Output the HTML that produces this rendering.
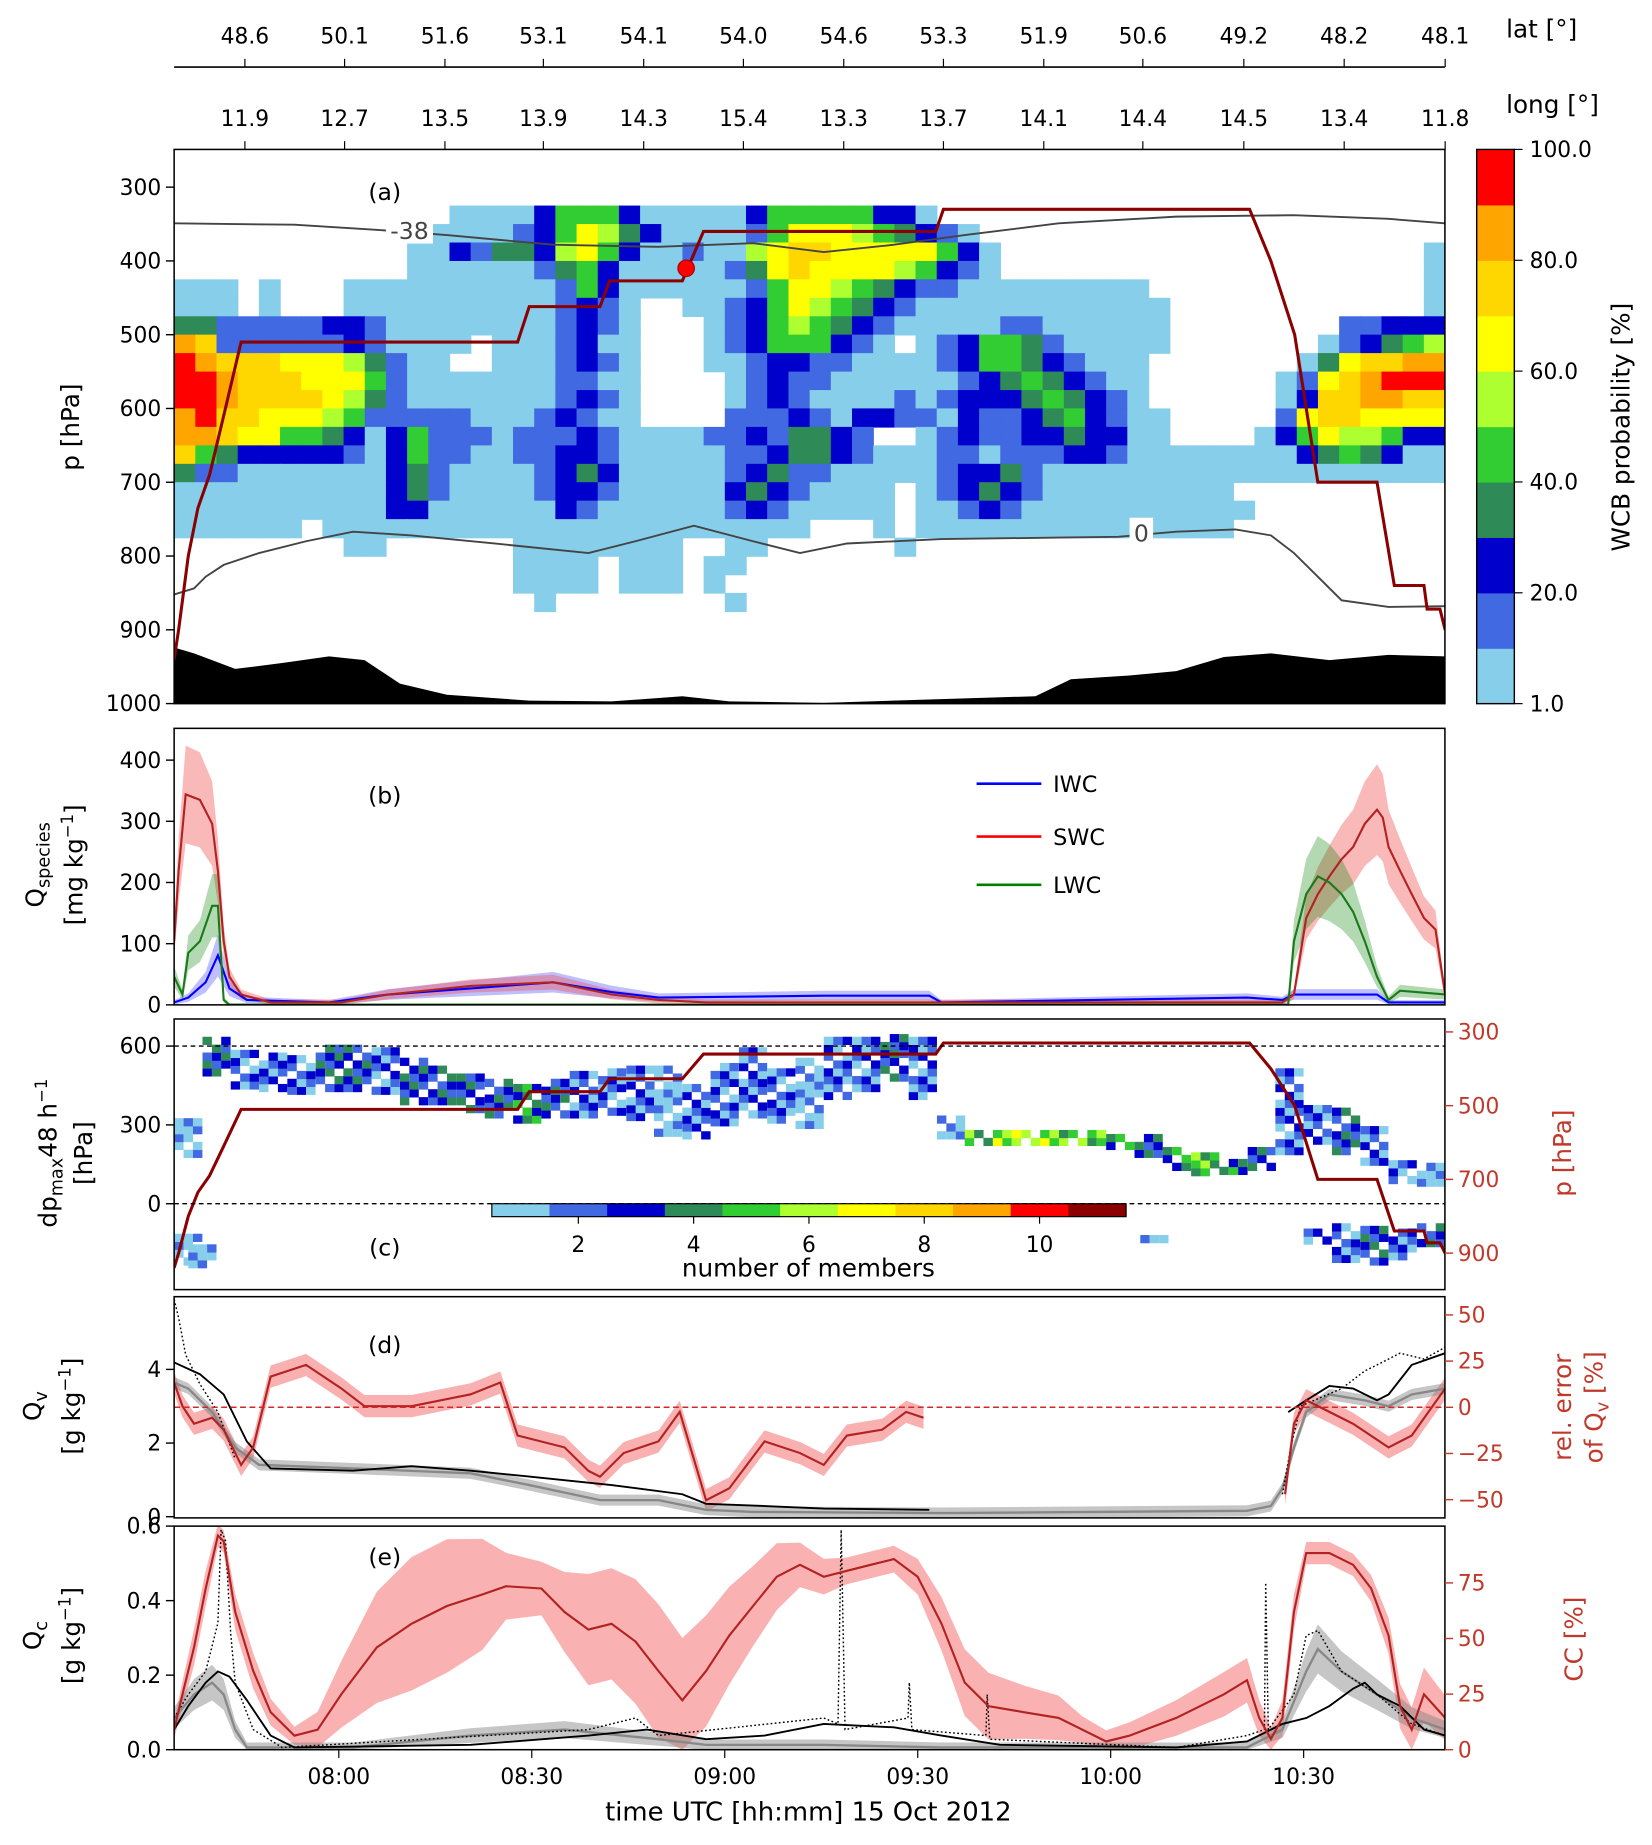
<!DOCTYPE html>
<html><head><meta charset="utf-8">
<style>body{margin:0;background:#fff}svg{display:block}text{font-family:"DejaVu Sans","Liberation Sans",sans-serif;}</style>
</head><body>
<svg id="fig" xmlns="http://www.w3.org/2000/svg" width="1652" height="1845" viewBox="0 0 1404 1568" preserveAspectRatio="none"></svg>
<script>
// ---------- DATA ----------
const tickTimes=[60,90,120,150,180,210];
const tickLabels=['08:00','08:30','09:00','09:30','10:00','10:30'];
const topTimes=[45.4,60.9,76.5,91.8,107.4,122.9,138.5,154.0,169.6,185.0,200.7,216.3,232.0];
const latLabels=['48.6','50.1','51.6','53.1','54.1','54.0','54.6','53.3','51.9','50.6','49.2','48.2','48.1'];
const lonLabels=['11.9','12.7','13.5','13.9','14.3','15.4','13.3','13.7','14.1','14.4','14.5','13.4','11.8'];
// panel a heatmap: 60 time columns x 22 pressure rows (325..875 hPa), level codes
const heatTime0=34.4, heatDt=3.293, heatP0=325, heatDp=25;
const heatRows=[
".............00002444200000244444220........................",
"...........000001246532000014666543210......................",
"...........0021332564200100567766666420....................0",
"...........0000001342000001367666654210....................0",
"000.0..."+"00000000"+"0"+"0142"+"000000"+"14665432110"+"00000000"+"............."+"0",
"000.0..."+"00000000"+"00121"+"0.."+"00124654321"+"000"+"000000000"+"............"+"0",
"33"+"11111"+"22"+"1"+"00000000"+"1210"+"..."+"012454321"+"00000"+"11"+"000000"+"........"+"11222",
"87"+"111111"+"2"+"1"+"0000"+"."+"000"+"1200"+"..."+"012444210"+"."+"0124431"+"00000"+"......."+"012345",
"9877766653100"+".."+"0001210"+"..."+"0012211"+"0000"+"1244321000"+"......."+"0367788",
"99877766641"+"0000000"+"1100"+"...."+"0121100000"+"0123432100"+"......"+"01678999",
"99877776531"+"0000000"+"1210"+"...."+"0121000010"+"1222343210"+"......"+"02778877",
"89776665411"+"111"+"000"+"12100"+"...."+"11121022110"+"211234210"+"0"+"....."+"16776666",
"887664432"+"0241110111"+"210000"+"11213321"+".."+"01211223220"+"0"+"...."+"024655422",
"743222221"+"0241100112"+"210000"+"01123321"+"0001101112210"+"0000000"+"2343200",
"3110000000"+"231"+"0000"+"1232"+"00000"+"12311"+"00000"+"12231"+"0000000000000000000",
"0000000000"+"231"+"0000"+"1221"+"00000"+"2321"+"0000"+"."+"012321"+"000000000"+"..........",
"0000000000"+"22"+"000000"+"21"+"000000"+"121"+"00000"+"."+"00121"+"00000000000"+".........",
"000000"+"."+"0"+"0000000000000000000000"+"..."+"0"+"."+"000000000000000"+"..........",
"........00"+"......"+"00000000"+".."+"00"+"......"+"0"+".........................",
"................"+"0000"+"."+"000"+"."+"00"+".................................",
"................"+"0000"+"."+"000"+"."+"0"+"..................................",
"................."+"0"+"........"+"0"+"................................."
];
const pathTime=[34.4,35.1,36.6,38.1,39.9,42.1,44.8,87.8,89.6,100.6,102.1,113.4,116.7,152.8,154.0,201.6,204.9,208.6,212.2,221.4,224.1,228.7,229.2,231.2,232.0];
const pathP=[940,900,800,735,690,610,510,510,462,462,427,427,360,360,330,330,400,500,700,700,840,840,872,872,900];
const dotTime=[114.0], dotP=[410];
const isoM38Time=[34.4,53.1,67.7,76.8,93.3,109.7,124.4,135.4,146.3,157.3,171.9,190.2,208.5,223.2,232.0];
const isoM38P=[349,351,359,365,378,381,376,388,378,365,349,340,338,343,349];
const iso0Time=[34.4,37.5,39.3,42.1,47.6,54.9,62.2,71.3,84.2,98.8,106.1,115.2,124.4,131.7,139.0,153.7,171.9,181.1,190.2,199.4,204.9,208.5,212.2,215.9,223.2,232.0];
const iso0P=[852,844,828,812,796,780,767,772,783,796,780,759,780,796,783,777,775,774,767,764,772,796,828,860,869,868];
const topoTime=[34.4,37.5,43.9,51.2,58.5,64.0,69.5,76.8,89.6,102.4,113.4,120.7,135.4,168.3,173.8,182.9,190.2,197.6,204.9,214.0,223.2,232.0];
const topoP=[924,932,953,945,936,941,973,988,996,997,990,997,999,990,967,962,956,937,932,941,934,936];
// panel b
const swcTime=[34.4,35.1,36.2,38.4,40.3,41.2,42.1,43.0,44.8,49.4,60.4,67.7,80.5,93.3,102.4,109.7,117.1,206.7,208.5,210.4,212.2,214.0,215.9,217.7,219.5,221.4,222.3,223.2,225.0,226.8,228.7,230.5,232.0];
const swcVal=[104,219,344,335,296,219,104,46,17,4,4,17,31,37,17,8,4,4,17,142,181,210,238,258,296,319,306,258,219,181,142,123,17];
const lwcTime=[34.4,35.7,36.6,38.4,40.3,41.2,42.1,43.0,207.6,208.5,210.4,212.2,214.0,215.9,217.7,219.5,221.4,223.2,225.0,232.0];
const lwcVal=[46,17,85,104,162,162,8,0,0,104,181,210,200,181,152,104,46,8,23,17];
const iwcTime=[34.4,36.6,39.3,41.2,43.0,45.7,58.5,67.7,80.5,93.3,102.4,109.7,135.4,151.8,153.7,201.2,206.7,208.5,221.4,223.2,232.0];
const iwcVal=[4,12,37,81,27,8,4,17,27,37,21,12,15,15,4,12,8,17,17,4,4];
// panel c
const scTime=[34.4,38.8,43.2,47.6,52.0,56.4,60.7,65.1,69.5,73.9,78.3,82.7,87.1,91.5,95.9,100.3,104.7,109.0,113.4,117.8,122.2,126.6,131.0,135.4,139.8,144.2,148.6,153.0,157.3,161.7,166.1,170.5,174.9,179.3,183.7,188.1,192.5,196.9,201.3,205.6,210.0,214.4,218.8,223.2,227.6];
const scCenter=[250,560,520,510,500,520,520,510,470,460,420,410,380,400,420,430,430,400,350,420,460,420,420,520,540,560,520,300,260,250,250,250,250,240,220,170,150,150,180,350,300,280,220,130,110];
const scSpread=[60,60,70,70,70,80,80,80,80,70,60,70,60,60,80,80,100,130,90,110,120,100,120,110,100,80,110,40,25,15,15,15,15,20,30,30,30,25,40,150,60,80,60,40,30];
const scLevel=[0,2,1,1,1,2,2,1,2,2,2,2,3,2,1,1,1,0,1,1,1,1,0,1,1,2,1,0,4,5,5,4,4,3,2,3,4,3,2,1,1,2,1,1,0];
const lowTime=[34.4,36.6,184.6,210.0,214.4,218.8,223.2,227.6];
const lowDp=[-170,-200,-135,-120,-150,-160,-150,-110];
const lowSpread=[50,30,0,20,60,60,50,40];
const lowLevel=[0,0,0,1,1,2,1,2];
// panel d
const qvModTime=[34.4,36.6,40.3,43.9,47.6,62.2,80.5,89.6,100.6,109.7,117.1,124.4,153.7,201.2,204.9,206.7,208.5,210.4,214.0,219.5,223.2,226.8,232.0];
const qvModVal=[3.64,3.48,2.84,1.88,1.41,1.31,1.18,0.86,0.45,0.45,0.19,0.13,0.10,0.16,0.29,0.77,1.88,2.84,3.32,3.16,3.00,3.32,3.48];
const qvObsTime=[34.4,38.4,42.1,45.7,49.4,62.2,71.3,80.5,89.6,102.4,113.4,117.1,126.2,135.4,151.8,null,207.6,210.4,214.0,217.7,221.4,223.2,226.8,232.0];
const qvObsVal=[4.19,3.87,3.32,2.04,1.31,1.25,1.37,1.25,1.09,0.86,0.61,0.35,0.29,0.22,0.19,null,2.84,3.16,3.55,3.48,3.16,3.32,4.12,4.44];
const qvRawTime=[34.4,35.1,36.2,38.4,41.2,43.9,null,206.7,208.0,209.5,215.9,219.5,221.4,225.0,228.7,232.0];
const qvRawVal=[5.9,5.4,4.4,3.6,2.84,1.57,null,0.61,1.88,3.0,3.48,3.96,4.12,4.44,4.28,4.6];
const errTime=[34.4,35.7,37.5,40.3,42.1,44.8,46.7,49.4,54.9,60.4,64.0,71.3,80.5,85.1,87.8,95.1,98.8,100.6,104.3,109.7,113.0,115.2,117.1,120.7,126.2,131.7,135.4,139.0,144.5,148.2,150.9,null,207.1,208.5,210.4,214.0,217.7,223.2,226.8,232.0];
const errVal=[13.4,0.6,-8.9,-5.7,-12.1,-31.2,-21.7,16.6,22.9,10.2,0.6,0.6,7.0,13.4,-15.3,-21.7,-34.4,-37.6,-24.8,-18.5,-2.5,-28,-50.3,-43.9,-18.5,-24.8,-31.2,-15.3,-12.1,-2.5,-5.7,null,-47.1,-8.9,3.8,-2.5,-8.9,-21.7,-15.3,10.2];
// panel e
const ccTime=[34.4,35.7,37.5,39.3,41.2,42.1,43.9,46.7,49.4,53.1,56.7,60.4,65.9,71.3,76.8,82.3,86.0,91.5,95.1,98.8,102.4,106.1,109.7,113.4,117.1,120.7,124.4,128.1,131.7,135.4,139.0,142.7,146.3,150.0,153.7,157.3,161.0,166.5,171.9,175.6,179.3,182.9,190.2,197.6,201.2,203.1,204.9,206.7,208.5,210.4,214.0,217.7,220.5,223.2,225.0,226.8,228.7,232.0];
const ccVal=[9,24.9,46,72.5,96.3,93.7,61.9,35.4,16.9,6.3,9,24.9,46,56.6,64.6,69.8,73.5,72.5,61.9,54,56.6,48.7,35.4,22.2,35.4,51.3,64.6,77.8,83.1,77.8,80.4,83.1,85.7,77.8,56.6,30.2,19.6,16.9,14.3,9,3.7,6.3,14.3,24.9,31.2,14.3,4.8,14.3,61.9,88.4,88.4,83.1,72.5,51.3,19.6,9,24.9,14.3];
const ccSpread=[4,6,8,8,5,5,8,8,6,4,8,15,25,30,30,25,15,12,18,25,25,28,30,28,25,22,18,15,10,8,6,6,6,8,12,15,15,12,10,6,5,6,8,10,10,8,5,8,8,5,5,5,6,8,10,10,12,10];
const qcModTime=[34.4,37.5,40.3,42.1,43.9,45.7,62.2,80.5,95.1,109.7,117.1,135.4,153.7,201.2,206.7,210.4,212.2,215.9,221.4,226.8,232.0];
const qcModVal=[.085,.148,.18,.148,.054,.006,.006,.038,.054,.028,.013,.013,.006,.006,.054,.21,.27,.21,.148,.085,.054];
const qcObsTime=[34.4,36.6,39.3,41.2,43.0,45.7,49.4,53.1,80.5,98.8,107.9,117.1,126.2,135.4,146.3,153.7,162.8,190.2,201.2,206.7,210.4,214.0,217.7,219.5,221.4,225.0,228.7,232.0];
const qcObsVal=[.054,.117,.18,.21,.196,.133,.038,.006,.013,.038,.054,.028,.038,.069,.06,.038,.013,.006,.022,.069,.085,.117,.164,.18,.148,.117,.054,.038];
const qcRawTime=[34.4,36.6,39.3,41.2,41.7,42.4,43.2,43.9,46.7,51.2,98.8,106.1,109.7,135.4,137.6,138.1,138.7,148.5,148.7,149.1,160.6,160.8,161.2,190.2,201.2,203.9,204.1,204.5,208.5,210.4,212.2,215.9,221.4,226.8,232.0];
const qcRawVal=[.085,.148,.21,.34,.59,.56,.31,.18,.054,.006,.054,.085,.038,.085,.069,.59,.054,.085,.18,.054,.038,.148,.028,.006,.038,.054,.448,.054,.148,.306,.32,.21,.148,.069,.038];

// ---------- HELPERS ----------
const NS='http://www.w3.org/2000/svg';
const svg=document.getElementById('fig');
function el(tag,attrs,parent){const e=document.createElementNS(NS,tag);for(const k in attrs)e.setAttribute(k,attrs[k]);(parent||svg).appendChild(e);return e;}
function txt(s,attrs,parent){const e=el('text',attrs,parent);e.textContent=s;return e;}
const L=148,R=1228;
const X=m=>L+(m-34.4)*164/30;
const Ya=p=>127.7+(p-250)*0.627;
const Yb=v=>854-v*0.52;
const Yc=d=>1023-d*0.2233;
const Ycp=p=>877+(p-300)*0.3133;
const Yd=v=>1289-v*31.3;
const Yde=e=>1196-e*1.57;
const Ye=q=>1487-q*316.7;
const Yec=c=>1487-c*1.89;
function lp(ts,vs,fy){let d='',pen=false;for(let i=0;i<ts.length;i++){if(vs[i]===null||ts[i]===null){pen=false;continue;}d+=(pen?'L':'M')+X(ts[i]).toFixed(1)+','+fy(vs[i]).toFixed(1);pen=true;}return d;}
function band(ts,lo,hi,fy){let a=[],b=[];for(let i=0;i<ts.length;i++){if(ts[i]===null)continue;a.push(X(ts[i]).toFixed(1)+','+fy(hi[i]).toFixed(1));}for(let i=ts.length-1;i>=0;i--){if(ts[i]===null)continue;b.push(X(ts[i]).toFixed(1)+','+fy(lo[i]).toFixed(1));}return 'M'+a.concat(b).join('L')+'Z';}
function segs(ts,vs){const out=[];let ct=[],cv=[];for(let i=0;i<ts.length;i++){if(ts[i]===null){if(ct.length)out.push([ct,cv]);ct=[];cv=[];}else{ct.push(ts[i]);cv.push(vs[i]);}}if(ct.length)out.push([ct,cv]);return out;}
const cmapA=['#87ceeb','#4169e1','#0000cd','#2e8b57','#32cd32','#adff2f','#ffff00','#ffd700','#ffa500','#ff0000'];
const cmapC=['#87ceeb','#4169e1','#0000cd','#2e8b57','#32cd32','#adff2f','#ffff00','#ffd700','#ffa500','#ff0000','#8b0000'];
const RED='#c0392b';
const defs=el('defs',{});
[['ca',127,598],['cb',619,854],['cc',866,1096],['cd',1102,1290],['ce',1297,1487]].forEach(c=>{const cp=el('clipPath',{id:c[0]},defs);el('rect',{x:L,y:c[1],width:R-L,height:c[2]-c[1]},cp);});
function yTicks(g,vals,labels,fy,side,color){vals.forEach((v,i)=>{const y=fy(v);if(side==='l'){el('line',{x1:L-7,x2:L,y1:y,y2:y,stroke:'#000','stroke-width':1.2},g);const t=txt(labels[i],{x:L-11,y:y+6.5,'text-anchor':'end','font-size':18.5,fill:color||'#000'},g);}else{el('line',{x1:R,x2:R+7,y1:y,y2:y,stroke:color||'#000','stroke-width':1.2},g);const t=txt(labels[i],{x:R+11,y:y+6.5,'text-anchor':'start','font-size':18.5,fill:color||'#000'},g);}});}
function rotText(s,x,y,g,color,size){const t=el('text',{x:x,y:y,'text-anchor':'middle','font-size':size||21,fill:color||'#000',transform:'rotate(-90 '+x+' '+y+')'},g);t.innerHTML=s;return t;}
function frame(g,y1,y2){const r=el('rect',{x:L,y:y1,width:R-L,height:y2-y1,fill:'none',stroke:'#000','stroke-width':1.3},g);}

// ---------- TOP AXES ----------
const gTop=el('g',{});


el('line',{x1:L,x2:R,y1:57,y2:57,stroke:'#000','stroke-width':1.3},gTop);
topTimes.forEach((t,i)=>{const x=X(t);el('line',{x1:x,x2:x,y1:57,y2:50,stroke:'#000'},gTop);
 const a=txt(latLabels[i],{x:x,y:37,'text-anchor':'middle','font-size':18.5},gTop);
 
 
 el('line',{x1:x,x2:x,y1:127,y2:120,stroke:'#000'},gTop);
 const b=txt(lonLabels[i],{x:x,y:107,'text-anchor':'middle','font-size':18.5},gTop);
 
 });
const latT=txt('lat [°]',{x:1280,y:32,'font-size':21},gTop);


const lonT=txt('long [°]',{x:1280,y:96,'font-size':21},gTop);



// ---------- PANEL A ----------
const gA=el('g',{});


const gAc=el('g',{'clip-path':'url(#ca)'},gA);
heatRows.forEach((row,k)=>{const r=row.padEnd(60,'.').slice(0,60);for(let i=0;i<60;i++){const c=r[i];if(c==='.')continue;const t0=heatTime0+i*heatDt,p0=heatP0+k*heatDp;
 const cell=el('rect',{x:X(t0).toFixed(1),y:Ya(p0).toFixed(1),width:(X(t0+heatDt)-X(t0)+0.6).toFixed(1),height:(Ya(p0+heatDp)-Ya(p0)+0.6).toFixed(1),fill:cmapA[+c]},gAc);
 
 }});
{let d='M'+X(topoTime[0])+','+Ya(1000);topoTime.forEach((t,i)=>d+='L'+X(t).toFixed(1)+','+Ya(topoP[i]).toFixed(1));d+='L'+X(topoTime[topoTime.length-1])+','+Ya(1000)+'Z';
 const topo=el('path',{d:d,fill:'#000'},gAc);
 
 }
const i38=el('path',{d:lp(isoM38Time,isoM38P,Ya),fill:'none',stroke:'#444','stroke-width':1.6},gAc);


const i0=el('path',{d:lp(iso0Time,iso0P,Ya),fill:'none',stroke:'#444','stroke-width':1.6},gAc);


el('rect',{x:328,y:183,width:40,height:24,fill:'#fff'},gA);
const l38=txt('-38',{x:348,y:203,'text-anchor':'middle','font-size':20,fill:'#444'},gA);


el('rect',{x:960,y:440,width:20,height:24,fill:'#fff'},gA);
const l0=txt('0',{x:970,y:460,'text-anchor':'middle','font-size':20,fill:'#444'},gA);


const fpA=el('path',{d:lp(pathTime,pathP,Ya),fill:'none',stroke:'#8b0000','stroke-width':2.6},gAc);


const dot=el('circle',{cx:X(dotTime[0]),cy:Ya(dotP[0]),r:7,fill:'#ff0000',stroke:'#a00','stroke-width':1},gA);


frame(gA,127,598);
yTicks(gA,[300,400,500,600,700,800,900,1000],['300','400','500','600','700','800','900','1000'],Ya,'l');
const pal=txt('(a)',{x:327,y:170,'text-anchor':'middle','font-size':20},gA);


const ylA=rotText('p [hPa]',67,363,gA);


// colorbar a
const cbVals=[1,20,40,60,80,100];
for(let i=0;i<10;i++){const cb=el('rect',{x:1255,y:(598-(i+1)*47.1).toFixed(1),width:32,height:47.6,fill:cmapA[i]},gA);
 
 }
el('rect',{x:1255,y:127,width:32,height:471,fill:'none',stroke:'#000','stroke-width':1.2},gA);
cbVals.forEach((v,i)=>{const y=598-i*94.2;el('line',{x1:1287,x2:1294,y1:y,y2:y,stroke:'#000'},gA);
 const t=txt(v.toFixed(1),{x:1300,y:y+6.5,'font-size':18.5},gA);
 
 });
const cbT=rotText('WCB probability [%]',1385,363,gA);



// ---------- PANEL B ----------
const gB=el('g',{});


const gBc=el('g',{'clip-path':'url(#cb)'},gB);
const series=[['iwc',iwcTime,iwcVal,'#0000ff','rgba(0,0,255,0.25)',0.4,2],['swc',swcTime,swcVal,'#b22222','rgba(240,80,80,0.4)',0.22,4],['lwc',lwcTime,lwcVal,'#1a7a1a','rgba(0,128,0,0.3)',0.3,3]];
series.forEach(s=>{const lo=s[2].map(v=>Math.max(0,v-(v*s[5]+s[6]))),hi=s[2].map(v=>v+v*s[5]+s[6]);
 const b=el('path',{d:band(s[1],lo,hi,Yb),fill:s[4],stroke:'none'},gBc);
 
 });
series.forEach(s=>{const l=el('path',{d:lp(s[1],s[2],Yb),fill:'none',stroke:s[3],'stroke-width':1.8},gBc);
 
 });
frame(gB,619,854);
yTicks(gB,[0,100,200,300,400],['0','100','200','300','400'],Yb,'l');
const pbl=txt('(b)',{x:327,y:683,'text-anchor':'middle','font-size':20},gB);


[['IWC','#0000ff',666],['SWC','#ff0000',711],['LWC','#008000',752]].forEach(l=>{const g=el('g',{},gB);
 
 
 el('line',{x1:830,x2:885,y1:l[2],y2:l[2],stroke:l[1],'stroke-width':2.2},g);txt(l[0],{x:895,y:l[2]+7,'font-size':19},g);});
const ylB=rotText('Q<tspan font-size="15" dy="5">species</tspan>',37,735,gB);


const ylB2=rotText('[mg kg<tspan font-size="14" dy="-8">−1</tspan><tspan dy="8">]</tspan>',70,735,gB);



// ---------- PANEL C ----------
const gC=el('g',{});


const gCc=el('g',{'clip-path':'url(#cc)'},gC);
function scCell(t,d,lvl){const c=el('rect',{x:X(t).toFixed(1),y:(Yc(d)-3.5).toFixed(1),width:(X(t+1.463)-X(t)).toFixed(1),height:7,fill:cmapC[Math.max(0,Math.min(10,lvl))]},gCc);
 
 }
scTime.forEach((t,k)=>{for(let s=0;s<3;s++){let r=0;for(let d=scCenter[k]-scSpread[k];d<=scCenter[k]+scSpread[k];d+=30,r++){if(((k*3+s)*7+r*3)%5===0)continue;scCell(t+s*1.463,d,scLevel[k]+((k+s+r)%3)-1);}}});
lowTime.forEach((t,k)=>{for(let s=0;s<3;s++){let r=0;for(let d=lowDp[k]-lowSpread[k];d<=lowDp[k]+lowSpread[k];d+=30,r++){if(((k*3+s)*7+r*3)%5===0&&lowSpread[k]>0)continue;scCell(t+s*1.463,d,lowLevel[k]+((k+s+r)%3)-1);}}});
[600,0].forEach(v=>{const l=el('line',{x1:L,x2:R,y1:Yc(v),y2:Yc(v),stroke:'#000','stroke-width':1.2,'stroke-dasharray':'4,3'},gC);
 
 });
const fpC=el('path',{d:lp(pathTime,pathP,Ycp),fill:'none',stroke:'#8b0000','stroke-width':2.6},gCc);


const cbx=v=>418+(v-0.5)*49;
for(let i=0;i<11;i++){const b=el('rect',{x:cbx(i+0.5),y:1023,width:49.5,height:11,fill:cmapC[i]},gC);
 
 }
el('rect',{x:418,y:1023,width:539,height:11,fill:'none',stroke:'#000','stroke-width':1},gC);
[2,4,6,8,10].forEach(v=>{el('line',{x1:cbx(v),x2:cbx(v),y1:1034,y2:1040,stroke:'#000'},gC);
 const t=txt(String(v),{x:cbx(v),y:1064,'text-anchor':'middle','font-size':18.5},gC);
 
 });
const nm=txt('number of members',{x:687,y:1085,'text-anchor':'middle','font-size':21},gC);


frame(gC,866,1096);
yTicks(gC,[0,300,600],['0','300','600'],Yc,'l');
yTicks(gC,[300,500,700,900],['300','500','700','900'],Ycp,'r',RED);
const pcl=txt('(c)',{x:327,y:1067,'text-anchor':'middle','font-size':20},gC);


const ylC=rotText('dp<tspan font-size="15" dy="5">max</tspan><tspan dy="-5">48 h</tspan><tspan font-size="14" dy="-8">−1</tspan>',48,980,gC);


const ylC2=rotText('[hPa]',78,980,gC);


const yrC=rotText('p [hPa]',1335,980,gC,RED);



// ---------- PANEL D ----------
const gD=el('g',{});


const gDc=el('g',{'clip-path':'url(#cd)'},gD);
segs(errTime,errVal).forEach(s=>{const b=el('path',{d:band(s[0],s[1].map(v=>v-6),s[1].map(v=>v+6),Yde),fill:'rgba(240,80,80,0.45)'},gDc);
 
 });
const qmb=el('path',{d:band(qvModTime,qvModVal.map(v=>v-0.15),qvModVal.map(v=>v+0.15),Yd),fill:'rgba(128,128,128,0.45)'},gDc);


const zl=el('line',{x1:L,x2:R,y1:Yde(0),y2:Yde(0),stroke:'#d62728','stroke-width':1.3,'stroke-dasharray':'5,3'},gD);


const qm=el('path',{d:lp(qvModTime,qvModVal,Yd),fill:'none',stroke:'#888','stroke-width':2},gDc);


const qr=el('path',{d:lp(qvRawTime,qvRawVal,Yd),fill:'none',stroke:'#000','stroke-width':1.2,'stroke-dasharray':'1.5,2'},gDc);


const qo=el('path',{d:lp(qvObsTime,qvObsVal,Yd),fill:'none',stroke:'#000','stroke-width':1.6},gDc);


const er=el('path',{d:lp(errTime,errVal,Yde),fill:'none',stroke:'#b22222','stroke-width':1.8},gDc);


frame(gD,1102,1290);
yTicks(gD,[0,2,4],['0','2','4'],Yd,'l');
yTicks(gD,[-50,-25,0,25,50],['−50','−25','0','25','50'],Yde,'r',RED);
const pdl=txt('(d)',{x:327,y:1150,'text-anchor':'middle','font-size':20},gD);


const ylD=rotText('Q<tspan font-size="15" dy="5">v</tspan>',35,1195,gD);


const ylD2=rotText('[g kg<tspan font-size="14" dy="-8">−1</tspan><tspan dy="8">]</tspan>',68,1195,gD);


const yrD=rotText('rel. error',1335,1196,gD,RED);


const yrD2=rotText('of Q<tspan font-size="15" dy="5">v</tspan><tspan dy="-5"> [%]</tspan>',1362,1196,gD,RED);



// ---------- PANEL E ----------
const gE=el('g',{});


const gEc=el('g',{'clip-path':'url(#ce)'},gE);
const ccb=el('path',{d:band(ccTime,ccVal.map((v,i)=>Math.max(0,v-ccSpread[i])),ccVal.map((v,i)=>v+ccSpread[i]),Yec),fill:'rgba(245,100,100,0.5)'},gEc);


const qcb=el('path',{d:band(qcModTime,qcModVal.map(v=>Math.max(0,v-(v*0.2+0.012))),qcModVal.map(v=>v+v*0.2+0.012),Ye),fill:'rgba(128,128,128,0.45)'},gEc);


const qcm=el('path',{d:lp(qcModTime,qcModVal,Ye),fill:'none',stroke:'#888','stroke-width':2},gEc);


const qcr=el('path',{d:lp(qcRawTime,qcRawVal,Ye),fill:'none',stroke:'#000','stroke-width':1.2,'stroke-dasharray':'1.5,2'},gEc);


const qco=el('path',{d:lp(qcObsTime,qcObsVal,Ye),fill:'none',stroke:'#000','stroke-width':1.6},gEc);


const ccl=el('path',{d:lp(ccTime,ccVal,Yec),fill:'none',stroke:'#b22222','stroke-width':1.8},gEc);


frame(gE,1297,1487);
yTicks(gE,[0,0.2,0.4,0.6],['0.0','0.2','0.4','0.6'],Ye,'l');
yTicks(gE,[0,25,50,75],['0','25','50','75'],Yec,'r',RED);
const pel=txt('(e)',{x:327,y:1330,'text-anchor':'middle','font-size':20},gE);


const ylE=rotText('Q<tspan font-size="15" dy="5">c</tspan>',35,1390,gE);


const ylE2=rotText('[g kg<tspan font-size="14" dy="-8">−1</tspan><tspan dy="8">]</tspan>',68,1390,gE);


const yrE=rotText('CC [%]',1345,1393,gE,RED);


tickTimes.forEach((t,i)=>{const x=X(t);el('line',{x1:x,x2:x,y1:1487,y2:1494,stroke:'#000'},gE);
 const l=txt(tickLabels[i],{x:x,y:1516,'text-anchor':'middle','font-size':18.5},gE);
 
 });
const xt=txt('time UTC [hh:mm] 15 Oct  2012',{x:687,y:1547,'text-anchor':'middle','font-size':22},gE);


</script>
</body></html>
